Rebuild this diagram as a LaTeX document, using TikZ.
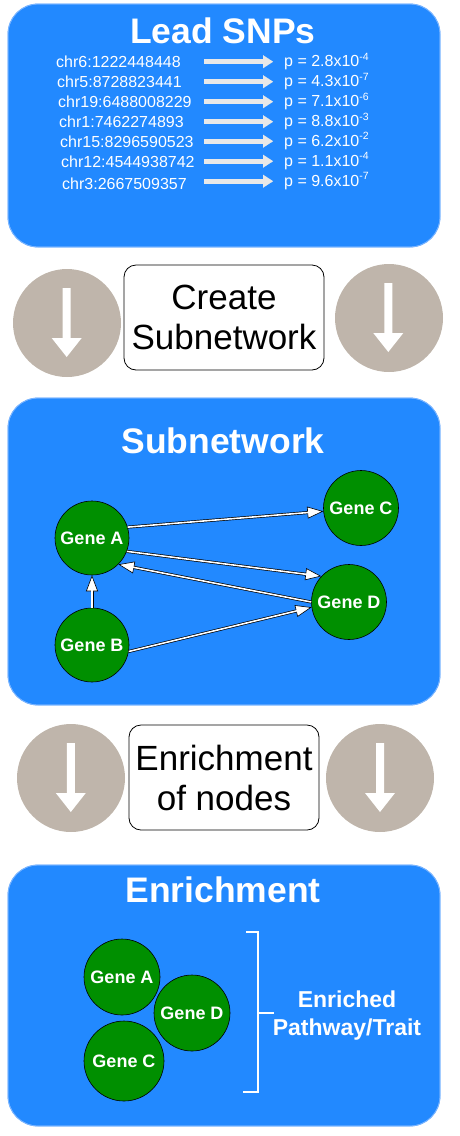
\documentclass[tikz,border=0pt]{standalone}
\usepackage{fontspec}
\setmainfont{Liberation Sans}
\usetikzlibrary{arrows.meta,calc}
\definecolor{boxblue}{RGB}{34,137,255}
\definecolor{boxedge}{RGB}{120,180,255}
\definecolor{genegreen}{RGB}{0,143,0}
\definecolor{circgray}{RGB}{191,181,171}
\definecolor{arrgray}{RGB}{232,232,232}
\newcommand\circdownarrow[3]{%
  \fill[white] ({#1-4},#2) -- ({#1+4},#2) -- ({#1+4},{#3-19}) -- ({#1+15},{#3-19})
    -- (#1,#3) -- ({#1-15},{#3-19}) -- ({#1-4},{#3-19}) -- cycle;}
\begin{document}
\begin{tikzpicture}[x=1pt,y=-1pt,
  bluebox/.style={fill=boxblue, draw=boxedge, line width=0.8pt, rounded corners=30pt},
  titletext/.style={text=white, font=\bfseries\fontsize{35.5}{40}\selectfont, anchor=base, inner sep=0pt},
  snptext/.style={text=white, font=\fontsize{16}{18}\selectfont, anchor=base west, inner sep=0pt},
  snparrow/.style={draw=arrgray, line width=5pt, -{Triangle[length=10pt,width=13pt,line width=0.01pt]}},
  procbox/.style={draw=black, fill=white, line width=0.8pt, rounded corners=12pt, align=center,
    font=\fontsize{35}{40}\selectfont, inner sep=0pt},
  gene/.style={circle, fill=genegreen, draw=black, line width=0.6pt, inner sep=0pt,
    text=white, font=\bfseries\fontsize{18}{20}\selectfont},
  edge/.style={draw=black, line width=3pt,
    -{Triangle[length=16pt,width=12pt,line width=0.6pt,fill=white]},
    postaction={draw=white, line width=1.6pt, -, shorten >=14pt}},
  graycirc/.style={fill=circgray}
]
\useasboundingbox (0,0) rectangle (459,1136);

% ---------- Lead SNPs ----------
\fill[bluebox] (8,4) rectangle (440,247);
\draw[boxedge, line width=0.8pt, rounded corners=30pt] (8,4) rectangle (440,247);
\node[titletext] (t1) at (223,43.3) {Lead SNPs};
\foreach \c/\p/\e/\xl/\yl/\yr [count=\i] in {
  chr6:1222448448/2.8/-4/56/67.7/66.7,
  chr5:8728823441/4.3/-7/57/87.7/86.7,
  chr19:6488008229/7.1/-6/58/107.7/106.7,
  chr1:7462274893/8.8/-3/59/127.7/126.7,
  chr15:8296590523/6.2/-2/60/147.7/146.2,
  chr12:4544938742/1.1/-4/61/167.7/166.2,
  chr3:2667509357/9.6/-7/62/189/186.2}{
  \node[snptext] (l\i) at (\xl,\yl) {\c};
  \node[snptext] (r\i) at (284,\yr) {p = \p x10\raisebox{6.5pt}{\fontsize{10.5}{11}\selectfont\e}};
  \coordinate (a\i) at (204,{\yr-5});
  \draw[snparrow] (a\i) -- ([xshift=-11pt,yshift=5pt]r\i.base west);
}

% ---------- Create Subnetwork ----------
\fill[graycirc] (67,323) circle (54pt);
\fill[graycirc] (389,318) circle (54pt);
\circdownarrow{66.7}{288}{357}
\circdownarrow{388.3}{283}{352}
\node[procbox, minimum width=200pt, minimum height=105pt] (create) at (224,317.5) {Create\\Subnetwork};

% ---------- Subnetwork ----------
\fill[bluebox] (8,398) rectangle (440,705);
\draw[boxedge, line width=0.8pt, rounded corners=30pt] (8,398) rectangle (440,705);
\node[titletext] (t2) at (223,453) {Subnetwork};
\node[gene, minimum size=74pt] (A) at (92,538) {Gene A};
\node[gene, minimum size=74pt] (B) at (92,645) {Gene B};
\node[gene, minimum size=75pt] (C) at (361,508) {Gene C};
\node[gene, minimum size=75pt] (D) at (349,602) {Gene D};
\draw[edge] (A.17) -- (C.185);
\draw[edge] (A.-21) -- (D.137);
\draw[edge] (D.180) -- (A.-45);
\draw[edge] (B.90) -- (A.-90);
\draw[edge] (B.-10) -- (D.188);

% ---------- Enrichment of nodes ----------
\fill[graycirc] (71,778) circle (54pt);
\fill[graycirc] (380,778) circle (54pt);
\circdownarrow{70.8}{743}{812}
\circdownarrow{380}{743}{812}
\node[procbox, minimum width=190pt, minimum height=105pt] (enrn) at (224,777.5) {Enrichment\\of nodes};

% ---------- Enrichment ----------
\fill[bluebox] (8,865) rectangle (440,1126);
\draw[boxedge, line width=0.8pt, rounded corners=30pt] (8,865) rectangle (440,1126);
\node[titletext] (t3) at (223,902) {Enrichment};
\node[gene, minimum size=76pt] (EA) at (122,977) {Gene A};
\node[gene, minimum size=76pt] (ED) at (192,1013) {Gene D};
\node[gene, minimum size=80pt] (EC) at (124,1061) {Gene C};
\draw[white, line width=1.5pt] (246,932) -- (258,932) -- (258,1092) -- (243,1092);
\draw[white, line width=1.5pt] (258,1013) -- (274,1013);
\node[text=white, font=\bfseries\fontsize{23}{28}\selectfont, align=center, inner sep=0pt] (enr) at (347,1016) {Enriched\\Pathway/Trait};
\end{tikzpicture}
\end{document}
